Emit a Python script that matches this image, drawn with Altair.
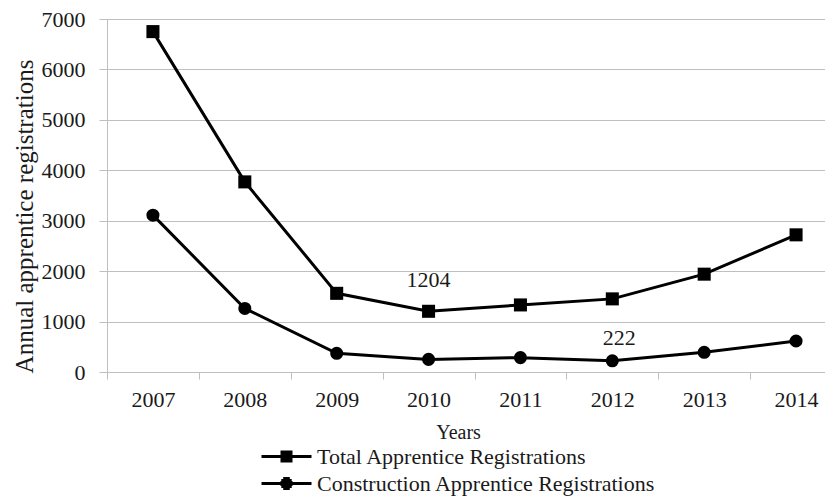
import altair as alt
import pandas as pd

years = ["2007", "2008", "2009", "2010", "2011", "2012", "2013", "2014"]
total = [6750, 3770, 1560, 1204, 1330, 1450, 1940, 2720]
construction = [3110, 1260, 370, 250, 285, 222, 390, 615]
series_names = ["Total Apprentice Registrations", "Construction Apprentice Registrations"]
labels_total = ["", "", "", "1204", "", "", "", ""]
labels_constr = ["", "", "", "", "", "222", "", ""]

rows = []
for i, yr in enumerate(years):
    rows.append(dict(year=yr, value=total[i], series=series_names[0], label=labels_total[i]))
    rows.append(dict(year=yr, value=construction[i], series=series_names[1], label=labels_constr[i]))
df = pd.DataFrame(rows)

FONT = "Liberation Serif"
GRID = "#bfbfbf"
TXT = "#1a1a1a"

# legend glyphs: a line with a marker drawn as stacked strokes (unit = 10px)
PATH_SQ = ("M-2.5,0H2.5"
           "M-0.6,-0.45H0.6M-0.6,-0.15H0.6M-0.6,0.15H0.6M-0.6,0.45H0.6")
PATH_CI = ("M-2.5,0H2.5"
           "M-0.33,-0.5H0.33M-0.52,-0.3H0.52M-0.6,-0.1H0.6"
           "M-0.6,0.1H0.6M-0.52,0.3H0.52M-0.33,0.5H0.33")

x = alt.X(
    "year:N",
    sort=years,
    scale=alt.Scale(type="band", range=[0, 735], paddingInner=0, paddingOuter=0),
    axis=alt.Axis(
        title="Years", labelAngle=0, domain=False, tickBand="extent",
        tickSize=7, tickColor=GRID, labelPadding=10, labelFontSize=22,
        titleFontSize=20, titlePadding=12, titleX=351, grid=False,
    ),
)
y = alt.Y(
    "value:Q",
    scale=alt.Scale(domain=[0, 7000]),
    axis=alt.Axis(
        values=list(range(0, 7001, 1000)), format="d",
        title="Annual apprentice registrations", grid=True, gridColor=GRID,
        domainColor=GRID, tickColor=GRID, tickSize=8, labelPadding=14,
        labelFontSize=22, titleFontSize=25, titleY=197, titlePadding=4,
    ),
)

base = alt.Chart(df)

lines = base.mark_line(color="black", strokeWidth=3).encode(x=x, y=y, detail="series:N")

points = base.mark_point(filled=True, color="black", size=170, opacity=1).encode(
    x=x, y=y,
    shape=alt.Shape("series:N", scale=alt.Scale(domain=series_names, range=["square", "circle"]), legend=None),
)

legend_layer = base.transform_filter("false").mark_point(
    filled=False, color="black", opacity=1, strokeWidth=3
).encode(
    x=x, y=y,
    shape=alt.Shape(
        "series:N",
        scale=alt.Scale(domain=series_names, range=[PATH_SQ, PATH_CI]),
        legend=alt.Legend(
            title=None, orient="none", legendX=168, legendY=426, direction="vertical",
            symbolSize=400, symbolStrokeColor="black", symbolStrokeWidth=3,
            symbolOpacity=1, labelOffset=19, labelFontSize=22, labelLimit=0,
            labelFont=FONT, labelColor=TXT, rowPadding=4,
        ),
    ),
)

text_total = base.transform_filter(
    (alt.datum.label != "") & (alt.datum.series == series_names[0])
).mark_text(font=FONT, fontSize=22, dy=-31, color=TXT).encode(x=x, y=y, text="label:N")

text_constr = base.transform_filter(
    (alt.datum.label != "") & (alt.datum.series == series_names[1])
).mark_text(font=FONT, fontSize=22, dx=7, dy=-23, color=TXT).encode(x=x, y=y, text="label:N")

chart = alt.layer(lines, points, legend_layer, text_total, text_constr).resolve_scale(
    shape="independent"
).properties(
    width=718, height=353,
    autosize=alt.AutoSizeParams(type="none"),
    padding={"left": 99, "top": 11, "right": 0, "bottom": 125},
).configure_view(stroke=None).configure_axis(
    labelFont=FONT, titleFont=FONT, labelColor=TXT, titleColor=TXT, titleFontWeight="normal",
)

chart.save("out.html", embed_options={"renderer": "svg", "actions": False})
